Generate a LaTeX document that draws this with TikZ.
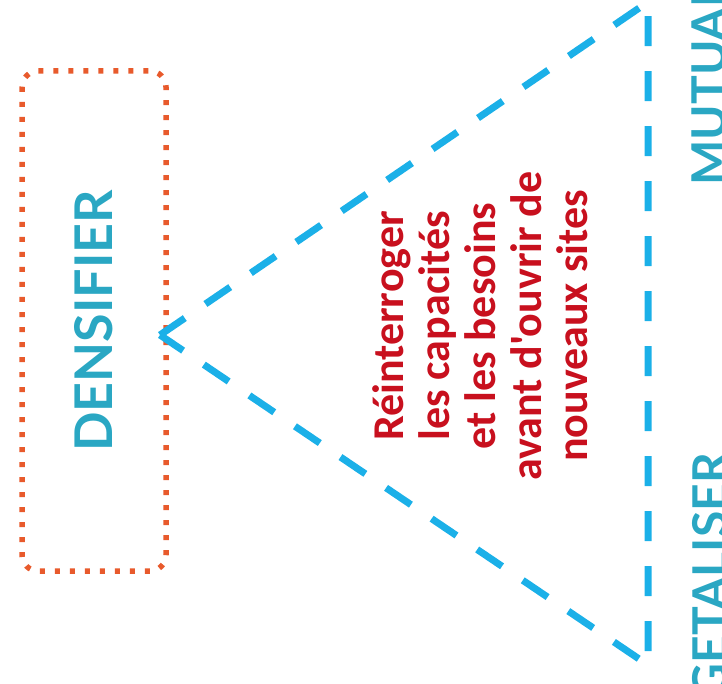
\documentclass[tikz,border=0pt]{standalone}
\usepackage{fontspec}
\setmainfont{Lato}
\newfontfamily\redfont{Carlito}
\definecolor{tealtxt}{HTML}{2AA7C3}
\definecolor{dashblue}{HTML}{1BB0E8}
\definecolor{dotorange}{HTML}{E85A2C}
\definecolor{redtxt}{HTML}{C8101E}

\begin{document}
\begin{tikzpicture}[x=1pt, y=-1pt,
    densbox/.style={draw=dotorange, line width=5.5pt, dash pattern=on 5pt off 10pt, rounded corners=16pt, minimum width=500pt, minimum height=144pt, rotate=90, text=tealtxt, font=\fontsize{52}{56}\selectfont\bfseries},
    sidetxt/.style={rotate=90, text=tealtxt, font=\fontsize{48}{52}\selectfont\bfseries, inner sep=0pt},
    bluedash/.style={draw=dashblue, line width=7pt, dash pattern=on 30pt off 25pt, line cap=butt}]
    \useasboundingbox (0,0) rectangle (722,684);

    % ノードを描画
    \node[densbox] (dens) at (94, 321) {DENSIFIER};
    \node[rotate=90, align=center, text=redtxt, font=\redfont\fontsize{44}{46}\selectfont\bfseries] (msg) at (480, 326) {Réinterroger\\les capacités\\et les besoins\\avant d'ouvrir de\\nouveaux sites};
    \node[sidetxt, anchor=north west] (mutual) at (692, 186) {MUTUAL};
    \node[sidetxt, anchor=north east] (veget) at (692, 453) {GETALISER};

    % 三角形を描画
    \coordinate (apex) at (160, 335);
    \coordinate (top) at (648, 2);
    \coordinate (bottom) at (648, 665);
    \draw[bluedash] (apex) -- (top) -- (bottom) -- cycle;
\end{tikzpicture}
\end{document}
